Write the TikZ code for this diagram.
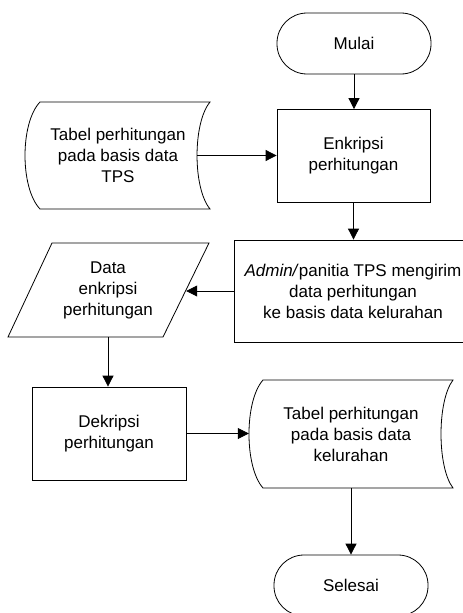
\documentclass[tikz,border=0pt]{standalone}
\usepackage{fontspec}
\setmainfont{Liberation Sans}
\usetikzlibrary{arrows.meta}
\begin{document}
\begin{tikzpicture}[x=1pt,y=-1pt,
  every node/.style={font=\fontsize{17}{21}\selectfont, align=center, inner sep=0pt},
  outline/.style={draw=black, line width=0.8pt},
  flow/.style={draw=black, line width=0.8pt, -{Triangle[length=11pt,width=11pt]}},
  terminal/.style={outline, rectangle, rounded corners=30pt, minimum width=154pt, minimum height=61pt},
  procbox/.style={outline, rectangle, minimum width=#1, minimum height=93pt},
  area/.style 2 args={rectangle, minimum width=#1, minimum height=#2}
]
\useasboundingbox (0,0) rectangle (463,613);

% start / end
\node[terminal] (mulai) at (354,43.5) {Mulai};
\node[terminal] (selesai) at (351,585.5) {Selesai};

% processes
\node[procbox=153pt] (enk) at (353.5,156) {Enkripsi\\perhitungan};
\node[procbox=238pt, minimum height=102pt] (admin) at (353,291)
  {\textit{Admin/}panitia TPS mengirim\\data perhitungan\\ke basis data kelurahan};
\node[procbox=154pt] (dek) at (109,433.5) {Dekripsi\\perhitungan};

% stored data outlines
\draw[outline] (40,102) -- (210,102)
  .. controls (192.7,123) and (192.7,188) .. (210,209) -- (40,209)
  .. controls (20,188) and (20,123) .. (40,102) -- cycle;
\draw[outline] (263,380) -- (453,380)
  .. controls (437,401) and (437,467) .. (453,488) -- (263,488)
  .. controls (244.3,467) and (244.3,401) .. (263,380) -- cycle;
\node[area={158pt}{107pt}] (tps) at (118,155.5) {Tabel perhitungan\\pada basis data\\TPS};
\node[area={204pt}{108pt}] (kel) at (351,434) {Tabel perhitungan\\pada basis data\\kelurahan};

% data (input/output)
\draw[outline] (52,243) -- (209,243) -- (163,337) -- (8,337) -- cycle;
\node[area={156pt}{94pt}] (data) at (108,290) {Data\\enkripsi\\perhitungan};

% connectors
\draw[flow] (mulai.south) -- (mulai.south |- enk.north);
\draw[flow] (tps.east) -- (tps.east -| enk.west);
\draw[flow] (enk.south) -- (enk.south |- admin.north);
\draw[flow] (admin.west) -- (admin.west -| data.east);
\draw[flow] (data.south) -- (data.south |- dek.north);
\draw[flow] (dek.east) -- (dek.east -| kel.west);
\draw[flow] (kel.south) -- (kel.south |- selesai.north);
\end{tikzpicture}
\end{document}
